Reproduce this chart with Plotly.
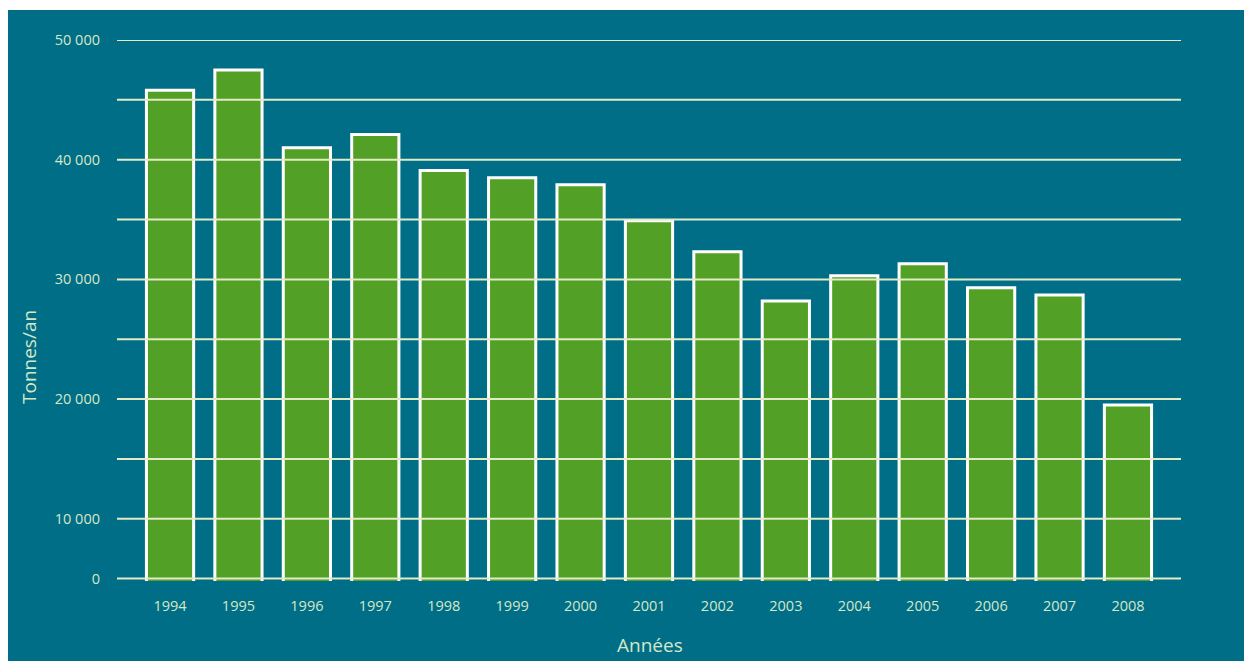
import plotly.graph_objects as go

years = ["1994", "1995", "1996", "1997", "1998", "1999", "2000", "2001",
         "2002", "2003", "2004", "2005", "2006", "2007", "2008"]
tonnes = [45800, 47500, 41000, 42100, 39100, 38500, 37900, 34900,
          32300, 28200, 30300, 31300, 29300, 28700, 19500]

grid_vals = [5000, 10000, 15000, 20000, 25000, 30000, 35000, 40000, 45000, 50000]
grid_text = ["0", "10 000", "", "20 000", "", "30 000", "", "40 000", "", "50 000"]

BG = "#006E87"
GREEN = "#52A025"
GRID = "#E2EAC6"
TXT = "#D6E7C6"
FONT = "Open Sans, DejaVu Sans, sans-serif"

OFF = 8  # page body offset
W, H = 1252 - OFF, 661 - OFF
L, R, T, B = 117 - OFF, (W + OFF) - 1181, 40 - OFF, H - (581 - OFF)

pw = W - L - R
ph = H - T - B

fig = go.Figure()
fig.add_trace(go.Bar(
    x=years, y=tonnes,
    marker=dict(color=GREEN, line=dict(color="#FFFFFF", width=3)),
    width=0.69,
    hoverinfo="x+y",
))

# background panel
fig.add_shape(type="rect", xref="paper", yref="paper", layer="below",
              x0=(-1 - L) / pw, x1=(W + 5 - L) / pw,
              y0=-(B + 5) / ph, y1=(H - (10 - OFF) - B) / ph,
              fillcolor=BG, line=dict(width=0))

# gridlines above bars
for v in grid_vals:
    fig.add_shape(type="line", xref="paper", yref="y", layer="above",
                  x0=0, x1=1, y0=v, y1=v,
                  line=dict(color=GRID, width=2))

fig.update_layout(
    width=W, height=H,
    margin=dict(l=L, r=R, t=T, b=B, pad=0),
    paper_bgcolor="#FFFFFF",
    plot_bgcolor="rgba(0,0,0,0)",
    showlegend=False,
    font=dict(family=FONT, color=TXT, size=15),
    xaxis=dict(
        type="category",
        range=[-0.775, 14.775],
        showgrid=False, zeroline=False, showline=False,
        ticks="", ticklabelstandoff=14,
        tickfont=dict(family=FONT, size=14.5, color=TXT),
    ),
    yaxis=dict(
        range=[4800, 50000],
        tickvals=grid_vals, ticktext=grid_text,
        showgrid=False, zeroline=False, showline=False,
        ticks="", ticklabelstandoff=16,
        tickfont=dict(family=FONT, size=14.5, color=TXT),
    ),
    annotations=[
        dict(text="Tonnes/an", xref="paper", yref="paper",
             x=(29 - OFF - L) / pw, y=(H - B - (357 - OFF)) / ph,
             xanchor="center", yanchor="middle", textangle=-90,
             showarrow=False, font=dict(family=FONT, size=19, color=TXT)),
        dict(text="Années", xref="paper", yref="paper",
             x=(650 - OFF - L) / pw, y=-((645 - OFF) - (H - B)) / ph,
             xanchor="center", yanchor="middle",
             showarrow=False, font=dict(family=FONT, size=19, color=TXT)),
    ],
)

fig.write_html("out.html")
